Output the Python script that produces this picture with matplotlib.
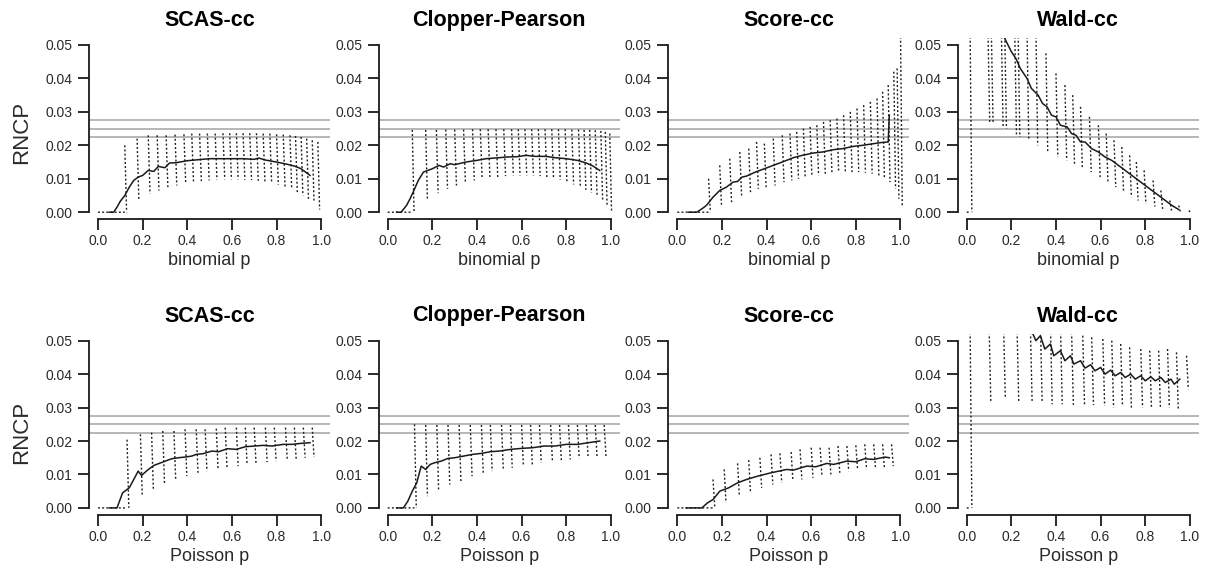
import numpy as np
import matplotlib
matplotlib.use("Agg")
import matplotlib.pyplot as plt

plt.rcParams['font.family'] = ['Liberation Sans', 'DejaVu Sans']

# ---------------------------------------------------------------------------
# Right non-coverage probability (RNCP) curves.
# Dotted trace: each oscillation column given by its position, peak and trough.
# Solid trace: moving average of the RNCP.
# ---------------------------------------------------------------------------

# --- binomial, SCAS-cc ---
scas_bin_col_p = [0.12, 0.175, 0.225, 0.265, 0.305, 0.345, 0.385, 0.42, 0.455, 0.49,
                  0.525, 0.56, 0.59, 0.62, 0.65, 0.68, 0.71, 0.74, 0.77, 0.80,
                  0.83, 0.86, 0.885, 0.91, 0.935, 0.96, 0.985]
scas_bin_col_top = [0.020, 0.022, 0.023, 0.023, 0.023, 0.0232, 0.0233, 0.0235, 0.0235, 0.0235,
                    0.0235, 0.0236, 0.0236, 0.0236, 0.0236, 0.0236, 0.0236, 0.0235, 0.0235, 0.0233,
                    0.0232, 0.023, 0.0228, 0.0225, 0.022, 0.0215, 0.021]
scas_bin_col_bot = [0.0, 0.0035, 0.0055, 0.0065, 0.0075, 0.008, 0.0085, 0.009, 0.0093, 0.0095,
                    0.0097, 0.0098, 0.0098, 0.0098, 0.0097, 0.0096, 0.0094, 0.0092, 0.0088, 0.0082,
                    0.0076, 0.0068, 0.006, 0.005, 0.004, 0.003, 0.0008]
scas_bin_avg_p = [0.05, 0.07, 0.085, 0.10, 0.12, 0.14, 0.16, 0.18, 0.20, 0.225,
                  0.25, 0.27, 0.30, 0.32, 0.35, 0.40, 0.45, 0.50, 0.55, 0.60,
                  0.65, 0.70, 0.72, 0.75, 0.80, 0.85, 0.88, 0.91, 0.93, 0.95]
scas_bin_avg = [0.0, 0.0, 0.0015, 0.0033, 0.005, 0.0075, 0.0095, 0.0105, 0.011, 0.0125,
                0.0122, 0.0137, 0.0133, 0.0147, 0.0148, 0.0154, 0.0157, 0.016, 0.016, 0.016,
                0.016, 0.0158, 0.0162, 0.0156, 0.015, 0.0143, 0.0138, 0.013, 0.012, 0.011]

# --- binomial, Clopper-Pearson ---
cp_bin_col_p = [0.11, 0.17, 0.218, 0.26, 0.30, 0.34, 0.38, 0.415, 0.45, 0.485,
                0.52, 0.555, 0.585, 0.615, 0.645, 0.675, 0.705, 0.735, 0.765, 0.795,
                0.825, 0.855, 0.88, 0.905, 0.93, 0.955, 0.975, 0.995]
cp_bin_col_top = [0.0246, 0.0246, 0.0246, 0.0247, 0.0247, 0.0247, 0.0248, 0.0248, 0.0248, 0.0248,
                  0.0248, 0.0248, 0.0248, 0.0248, 0.0248, 0.0248, 0.0248, 0.0248, 0.0248, 0.0248,
                  0.0247, 0.0247, 0.0246, 0.0246, 0.0245, 0.0243, 0.024, 0.0235]
cp_bin_col_bot = [0.0, 0.0036, 0.0057, 0.007, 0.008, 0.0088, 0.0095, 0.010, 0.0103, 0.0105,
                  0.0108, 0.011, 0.011, 0.011, 0.011, 0.0108, 0.0105, 0.0102, 0.0097, 0.009,
                  0.0083, 0.0075, 0.0067, 0.0058, 0.0048, 0.0035, 0.002, 0.0005]
cp_bin_avg_p = [0.04, 0.06, 0.084, 0.10, 0.114, 0.137, 0.16, 0.18, 0.20, 0.23,
                0.25, 0.28, 0.30, 0.35, 0.40, 0.44, 0.50, 0.53, 0.58, 0.62,
                0.66, 0.71, 0.75, 0.80, 0.85, 0.89, 0.92, 0.95]
cp_bin_avg = [0.0, 0.0, 0.002, 0.004, 0.006, 0.0095, 0.012, 0.0125, 0.013, 0.014,
              0.0135, 0.0145, 0.0142, 0.015, 0.0155, 0.016, 0.0163, 0.0165, 0.0166, 0.017,
              0.0167, 0.0167, 0.0163, 0.016, 0.0155, 0.0147, 0.0138, 0.0125]

# --- binomial, Score-cc ---
score_bin_col_p = [0.14, 0.19, 0.235, 0.28, 0.32, 0.355, 0.39, 0.43, 0.47, 0.505,
                   0.535, 0.565, 0.595, 0.625, 0.655, 0.685, 0.715, 0.745, 0.775, 0.805,
                   0.835, 0.865, 0.895, 0.92, 0.945, 0.97, 0.985, 1.0]
score_bin_col_top = [0.010, 0.014, 0.016, 0.018, 0.019, 0.021, 0.0205, 0.022, 0.023, 0.0235,
                     0.024, 0.025, 0.0255, 0.026, 0.027, 0.0275, 0.028, 0.029, 0.030, 0.031,
                     0.032, 0.033, 0.034, 0.036, 0.038, 0.042, 0.043, 0.055]
score_bin_col_bot = [0.0, 0.002, 0.003, 0.005, 0.006, 0.007, 0.0075, 0.008, 0.009, 0.0095,
                     0.010, 0.0105, 0.011, 0.011, 0.0115, 0.0115, 0.012, 0.012, 0.012, 0.012,
                     0.0118, 0.0115, 0.011, 0.010, 0.009, 0.007, 0.004, 0.002]
score_bin_avg_p = [0.05, 0.087, 0.11, 0.13, 0.16, 0.19, 0.22, 0.25, 0.27, 0.29,
                   0.31, 0.35, 0.39, 0.43, 0.47, 0.52, 0.56, 0.61, 0.65, 0.70,
                   0.74, 0.79, 0.83, 0.88, 0.91, 0.945, 0.95]
score_bin_avg = [0.0, 0.0, 0.001, 0.002, 0.0045, 0.0065, 0.0075, 0.009, 0.0092, 0.0105,
                 0.0108, 0.012, 0.013, 0.014, 0.015, 0.0163, 0.017, 0.0177, 0.018, 0.0187,
                 0.019, 0.0197, 0.020, 0.0205, 0.0208, 0.021, 0.029]

# --- binomial, Wald-cc ---
wald_bin_col_p = [0.015, 0.095, 0.11, 0.155, 0.17, 0.215, 0.23, 0.27, 0.31, 0.355,
                  0.40, 0.44, 0.475, 0.51, 0.55, 0.59, 0.625, 0.66, 0.695, 0.73,
                  0.76, 0.795, 0.835, 0.87, 0.91, 0.95, 0.995]
wald_bin_col_top = [0.055, 0.055, 0.055, 0.055, 0.055, 0.055, 0.055, 0.055, 0.055, 0.0475,
                    0.0415, 0.038, 0.035, 0.0315, 0.0285, 0.026, 0.0235, 0.0215, 0.0195, 0.017,
                    0.015, 0.0125, 0.0095, 0.0065, 0.0035, 0.002, 0.0005]
wald_bin_col_bot = [0.0, 0.027, 0.0266, 0.0255, 0.025, 0.023, 0.0225, 0.0215, 0.020, 0.018,
                    0.0165, 0.0155, 0.0145, 0.0135, 0.012, 0.0105, 0.009, 0.0075, 0.006, 0.0045,
                    0.0035, 0.0025, 0.0017, 0.001, 0.0005, 0.0, 0.0]
wald_bin_avg_p = [0.16, 0.17, 0.20, 0.22, 0.24, 0.27, 0.29, 0.32, 0.34, 0.36,
                  0.38, 0.40, 0.42, 0.45, 0.47, 0.49, 0.51, 0.53, 0.56, 0.59,
                  0.62, 0.65, 0.68, 0.71, 0.74, 0.77, 0.80, 0.83, 0.86, 0.89,
                  0.92, 0.95]
wald_bin_avg = [0.056, 0.052, 0.048, 0.046, 0.043, 0.040, 0.037, 0.035, 0.0325, 0.0315,
                0.029, 0.0285, 0.026, 0.0255, 0.0235, 0.023, 0.021, 0.021, 0.019, 0.018,
                0.0165, 0.0155, 0.014, 0.0125, 0.011, 0.0095, 0.008, 0.0065, 0.005, 0.0035,
                0.002, 0.0008]

# --- Poisson, SCAS-cc ---
scas_poi_col_p = [0.13, 0.19, 0.24, 0.29, 0.34, 0.39, 0.44, 0.48, 0.53, 0.57,
                  0.62, 0.66, 0.70, 0.75, 0.79, 0.84, 0.88, 0.92, 0.96]
scas_poi_col_top = [0.0204, 0.022, 0.0225, 0.023, 0.023, 0.0235, 0.0235, 0.0235, 0.0237, 0.024,
                    0.024, 0.024, 0.024, 0.024, 0.024, 0.024, 0.024, 0.024, 0.024]
scas_poi_col_bot = [0.0, 0.004, 0.0055, 0.007, 0.0085, 0.0095, 0.0105, 0.011, 0.0115, 0.012,
                    0.0125, 0.013, 0.0133, 0.0137, 0.014, 0.0143, 0.0145, 0.015, 0.0152]
scas_poi_avg_p = [0.05, 0.085, 0.11, 0.14, 0.16, 0.18, 0.195, 0.22, 0.25, 0.29,
                  0.33, 0.36, 0.39, 0.42, 0.44, 0.47, 0.51, 0.54, 0.58, 0.62,
                  0.66, 0.70, 0.74, 0.78, 0.83, 0.87, 0.91, 0.95]
scas_poi_avg = [0.0, 0.0, 0.0045, 0.006, 0.0085, 0.011, 0.0097, 0.0112, 0.0127, 0.0137,
                0.0147, 0.015, 0.0152, 0.0155, 0.016, 0.0162, 0.017, 0.0168, 0.0177, 0.0175,
                0.0183, 0.0185, 0.0187, 0.0185, 0.019, 0.019, 0.0193, 0.0195]

# --- Poisson, Clopper-Pearson ---
cp_poi_col_p = [0.12, 0.17, 0.22, 0.27, 0.32, 0.37, 0.42, 0.46, 0.51, 0.55,
                0.60, 0.64, 0.68, 0.73, 0.77, 0.81, 0.85, 0.89, 0.93, 0.97]
cp_poi_col_top = [0.025, 0.0248, 0.0248, 0.0248, 0.0248, 0.0248, 0.0248, 0.0248, 0.0248, 0.0248,
                  0.0248, 0.0248, 0.0248, 0.0248, 0.0248, 0.0248, 0.0248, 0.0248, 0.0248, 0.0248]
cp_poi_col_bot = [0.0, 0.0035, 0.005, 0.007, 0.008, 0.0095, 0.0105, 0.011, 0.0115, 0.012,
                  0.0125, 0.013, 0.0135, 0.014, 0.0143, 0.0145, 0.0148, 0.015, 0.0152, 0.0155]
cp_poi_avg_p = [0.04, 0.07, 0.09, 0.11, 0.13, 0.15, 0.17, 0.19, 0.21, 0.24,
                0.27, 0.30, 0.34, 0.38, 0.42, 0.46, 0.50, 0.55, 0.60, 0.65,
                0.70, 0.75, 0.80, 0.85, 0.90, 0.95]
cp_poi_avg = [0.0, 0.0, 0.002, 0.005, 0.0075, 0.0125, 0.0115, 0.013, 0.0135, 0.014,
              0.0148, 0.015, 0.0155, 0.016, 0.0163, 0.0168, 0.017, 0.0175, 0.0178, 0.018,
              0.0185, 0.0185, 0.019, 0.019, 0.0195, 0.020]

# --- Poisson, Score-cc ---
score_poi_col_p = [0.16, 0.21, 0.27, 0.32, 0.37, 0.42, 0.46, 0.51, 0.55, 0.60,
                   0.64, 0.68, 0.72, 0.76, 0.80, 0.84, 0.88, 0.92, 0.96]
score_poi_col_top = [0.0085, 0.0115, 0.0133, 0.0143, 0.015, 0.016, 0.0163, 0.0167, 0.0175, 0.018,
                     0.018, 0.018, 0.0185, 0.0185, 0.0187, 0.019, 0.019, 0.019, 0.019]
score_poi_col_bot = [0.0, 0.0015, 0.0035, 0.0045, 0.006, 0.007, 0.0075, 0.008, 0.0085, 0.009,
                     0.0095, 0.010, 0.0105, 0.011, 0.0113, 0.0115, 0.012, 0.012, 0.0125]
score_poi_avg_p = [0.04, 0.11, 0.135, 0.16, 0.19, 0.23, 0.27, 0.31, 0.36, 0.42,
                   0.49, 0.52, 0.58, 0.62, 0.67, 0.70, 0.76, 0.80, 0.84, 0.88,
                   0.93, 0.95]
score_poi_avg = [0.0, 0.0, 0.0015, 0.0025, 0.005, 0.006, 0.0075, 0.0085, 0.0095, 0.0105,
                 0.0115, 0.0113, 0.0125, 0.0123, 0.0133, 0.013, 0.014, 0.0138, 0.0147, 0.0145,
                 0.0152, 0.015]

# --- Poisson, Wald-cc ---
wald_poi_col_p = [0.015, 0.10, 0.165, 0.225, 0.285, 0.33, 0.375, 0.42, 0.47, 0.52,
                  0.56, 0.61, 0.65, 0.69, 0.73, 0.78, 0.82, 0.86, 0.90, 0.94, 0.985]
wald_poi_col_top = [0.055, 0.055, 0.055, 0.055, 0.055, 0.055, 0.055, 0.055, 0.0525, 0.0515,
                    0.051, 0.0505, 0.050, 0.049, 0.048, 0.0475, 0.047, 0.047, 0.0475, 0.0465, 0.0455]
wald_poi_col_bot = [0.0, 0.0317, 0.0327, 0.032, 0.0317, 0.0317, 0.031, 0.031, 0.0308, 0.0305,
                    0.0308, 0.0305, 0.030, 0.0305, 0.030, 0.030, 0.0297, 0.030, 0.030, 0.0297, 0.0355]
wald_poi_avg_p = [0.29, 0.31, 0.33, 0.35, 0.375, 0.39, 0.42, 0.44, 0.465, 0.48,
                  0.51, 0.53, 0.555, 0.575, 0.60, 0.62, 0.645, 0.665, 0.69, 0.71,
                  0.735, 0.755, 0.78, 0.80, 0.825, 0.845, 0.87, 0.89, 0.915, 0.93, 0.955]
wald_poi_avg = [0.053, 0.050, 0.0515, 0.0475, 0.049, 0.0455, 0.047, 0.044, 0.0455, 0.043,
                0.044, 0.0418, 0.0428, 0.041, 0.042, 0.040, 0.0412, 0.0395, 0.0405, 0.039,
                0.040, 0.0385, 0.0395, 0.038, 0.0392, 0.038, 0.039, 0.0375, 0.0385, 0.037, 0.0385]

# nominal one-sided level and tolerance band
ref_levels = [0.0225, 0.025, 0.0275]

titles = ["SCAS-cc", "Clopper-Pearson", "Score-cc", "Wald-cc"]
row_xlabels = ["binomial p", "Poisson p"]
y_ticks = [0.0, 0.01, 0.02, 0.03, 0.04, 0.05]
x_ticks = [0.0, 0.2, 0.4, 0.6, 0.8, 1.0]

rows = [
    [(scas_bin_col_p, scas_bin_col_top, scas_bin_col_bot, scas_bin_avg_p, scas_bin_avg),
     (cp_bin_col_p, cp_bin_col_top, cp_bin_col_bot, cp_bin_avg_p, cp_bin_avg),
     (score_bin_col_p, score_bin_col_top, score_bin_col_bot, score_bin_avg_p, score_bin_avg),
     (wald_bin_col_p, wald_bin_col_top, wald_bin_col_bot, wald_bin_avg_p, wald_bin_avg)],
    [(scas_poi_col_p, scas_poi_col_top, scas_poi_col_bot, scas_poi_avg_p, scas_poi_avg),
     (cp_poi_col_p, cp_poi_col_top, cp_poi_col_bot, cp_poi_avg_p, cp_poi_avg),
     (score_poi_col_p, score_poi_col_top, score_poi_col_bot, score_poi_avg_p, score_poi_avg),
     (wald_poi_col_p, wald_poi_col_top, wald_poi_col_bot, wald_poi_avg_p, wald_poi_avg)],
]


def oscillation_path(col_p, col_top, col_bot, slant=0.008):
    """Zero stretch up to the first jump, then one slanted stroke per column."""
    xs = [0.0, col_p[0], np.nan]
    ys = [0.0, 0.0, np.nan]
    for p, t, b in zip(col_p, col_top, col_bot):
        xs += [p, p + slant, np.nan]
        ys += [t, b, np.nan]
    return np.array(xs), np.array(ys)


W, H = 1208, 571
fig = plt.figure(figsize=(W / 100, H / 100), dpi=100)

col_left_px = [89.1, 378.8, 668.4, 957.8]
ax_w_px = 241.0
row_top_px = [38.3, 334.0]
ax_h_px = 180.6
ink = "#1a1a1a"

for r, row in enumerate(rows):
    for c, (cp_, ct, cb, ap, av) in enumerate(row):
        ax = fig.add_axes([col_left_px[c] / W, 1 - (row_top_px[r] + ax_h_px) / H,
                           ax_w_px / W, ax_h_px / H])
        ax.set_xlim(-0.04, 1.04)
        ax.set_ylim(-0.002, 0.052)

        for lev in ref_levels:
            ax.axhline(lev, color="#a3a3a3", lw=1.1, zorder=1)

        xs, ys = oscillation_path(cp_, ct, cb)
        ax.plot(xs, ys, color=ink, lw=1.0, linestyle=(0, (1.4, 1.6)), zorder=2)
        ax.plot(ap, av, color=ink, lw=1.1, zorder=3)

        for side in ("top", "right"):
            ax.spines[side].set_visible(False)
        ax.spines["left"].set_bounds(0.0, 0.05)
        ax.spines["bottom"].set_bounds(0.0, 1.0)
        for side in ("left", "bottom"):
            ax.spines[side].set_linewidth(1.3)
            ax.spines[side].set_color(ink)

        ax.set_yticks(y_ticks)
        ax.set_yticklabels([f"{v:.2f}" for v in y_ticks])
        ax.set_xticks(x_ticks)
        ax.set_xticklabels([f"{v:.1f}" for v in x_ticks])
        ax.tick_params(direction="out", length=8, width=1.3, color=ink,
                       labelsize=10, labelcolor="#2a2a2a")
        ax.tick_params(axis="y", pad=4)
        ax.tick_params(axis="x", pad=3)

        ax.set_xlabel(row_xlabels[r], fontsize=13, color="#2a2a2a", labelpad=3)
        ax.set_title(titles[c], fontsize=15.5, fontweight="bold", pad=9)

    fig.text(21.7 / W, 1 - (132 if r == 0 else 432) / H, "RNCP", rotation=90,
             ha="center", va="center", fontsize=16, color="#2a2a2a")

fig.savefig("out.png", dpi=100)
